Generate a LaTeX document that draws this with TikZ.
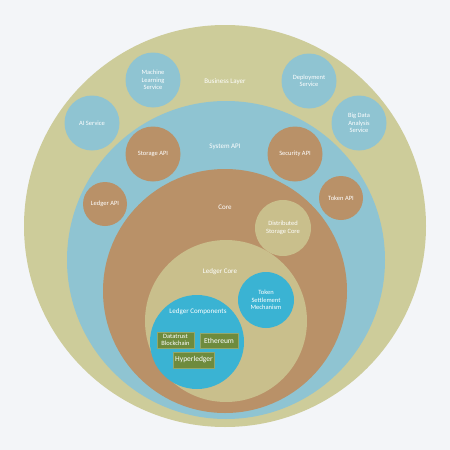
\documentclass[tikz,border=0pt]{standalone}
\usepackage{fontspec}
\setmainfont{Carlito}
\definecolor{bgpage}{HTML}{F3F5F8}
\definecolor{olive}{HTML}{CDCC9A}
\definecolor{skyblue}{HTML}{8FC4D2}
\definecolor{clay}{HTML}{B99168}
\definecolor{sand}{HTML}{C9BF8C}
\definecolor{cyanlayer}{HTML}{3AB3D3}
\definecolor{leaf}{HTML}{6E8B3D}
\tikzset{
  layer/.style={circle, inner sep=0pt, minimum size=#1},
  bubble/.style={circle, inner sep=0pt, minimum size=#1, text=white, align=center, font=\fontsize{6.5}{7.5}\selectfont},
  label text/.style={text=white, font=\fontsize{7}{8}\selectfont},
  chain box/.style={fill=leaf, draw=leaf!75!white, line width=0.5pt, text=white, align=center, inner sep=1.5pt, font=\fontsize{6.5}{7}\selectfont}
}
\begin{document}
\begin{tikzpicture}[x=1pt, y=-1pt]
\fill[bgpage] (0,0) rectangle (450,450);
\useasboundingbox (0,0) rectangle (450,450);
\node[layer=402pt, fill=olive] (business) at (225,226) {};
\node[bubble=55pt, fill=skyblue] (ml) at (153,80) {Machine\\Learning\\Service};
\node[bubble=55pt, fill=skyblue] (deploy) at (309,81) {Deployment\\Service};
\node[bubble=55pt, fill=skyblue] (ai) at (92,123) {AI Service};
\node[bubble=55pt, fill=skyblue] (bigdata) at (359,123) {Big Data\\Analysis\\Service};
\node[layer=318pt, fill=skyblue] (sysapi) at (226,260) {};
\node[bubble=55pt, fill=clay] (storage) at (153,154) {Storage API};
\node[bubble=55pt, fill=clay] (security) at (295,154) {Security API};
\node[bubble=44pt, fill=clay] (ledgerapi) at (105,204) {Ledger API};
\node[bubble=44pt, fill=clay] (tokenapi) at (341,198) {Token API};
\node[layer=244pt, fill=clay] (core) at (225,291) {};
\node[bubble=56pt, fill=sand] (dstore) at (283,228) {Distributed\\Storage Core};
\node[layer=162pt, fill=sand] (ledgercore) at (226,321) {};
\node[bubble=56pt, fill=cyanlayer] (token) at (266,300) {Token\\Settlement\\Mechanism};
\node[layer=94pt, fill=cyanlayer] (components) at (197,342) {};
\node[chain box, minimum width=37pt, minimum height=16pt] (datatrust) at (175.5,340) {Datatrust\\Blockchain};
\node[chain box, minimum width=38pt, minimum height=15pt, font=\fontsize{7.5}{8}\selectfont] (ethereum) at (219,340.5) {Ethereum};
\node[chain box, minimum width=40pt, minimum height=16pt, font=\fontsize{7.5}{8}\selectfont] (hyper) at (194,360) {Hyperledger};
\node[label text] (businesslabel) at (225,82) {Business Layer};
\node[label text] (sysapilabel) at (225,147) {System API};
\node[label text] (corelabel) at (225,207) {Core};
\node[label text] (ledgercorelabel) at (220,272) {Ledger Core};
\node[label text] (componentslabel) at (198,312) {Ledger Components};
\end{tikzpicture}
\end{document}
